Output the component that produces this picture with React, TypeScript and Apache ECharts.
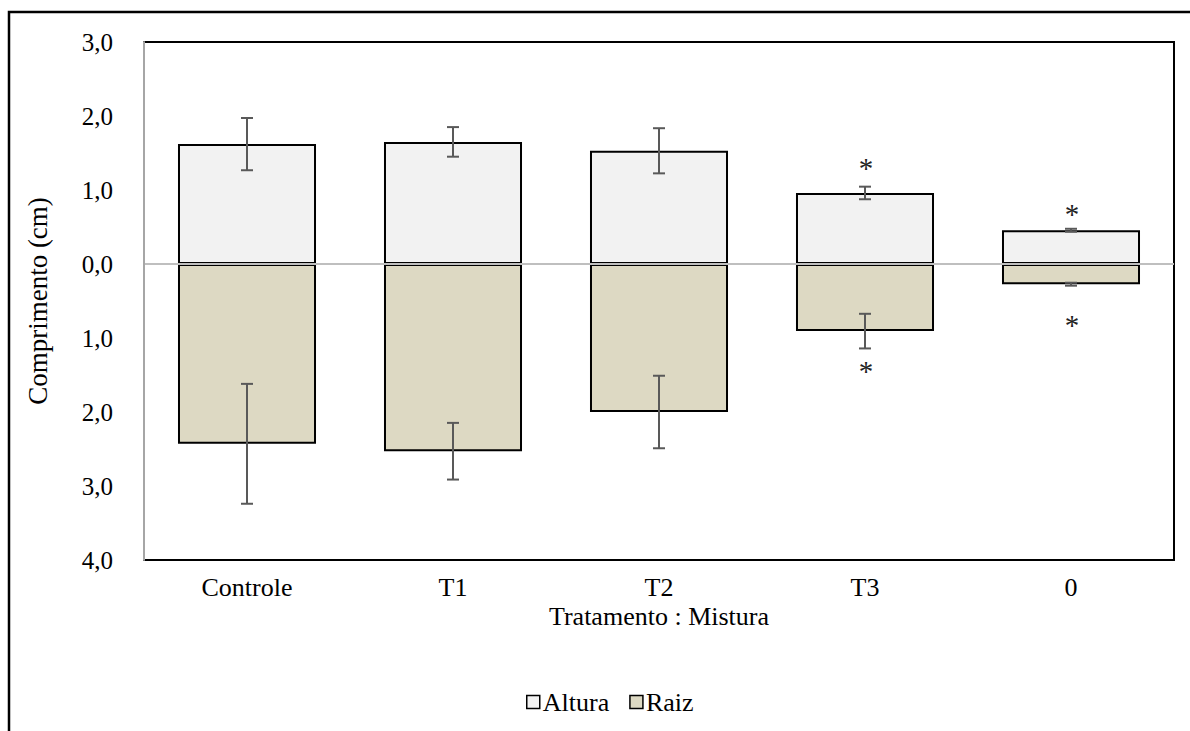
import React, { useEffect, useRef } from 'react';
import * as echarts from 'echarts';

const categories = ['Controle', 'T1', 'T2', 'T3', '0'];
const altura = [1.62, 1.65, 1.53, 0.96, 0.456];
const alturaErr = [0.353, 0.2, 0.305, 0.085, 0.02];
const raiz = [-2.43, -2.53, -2.0, -0.907, -0.273];
const raizErr = [0.81, 0.383, 0.49, 0.234, 0.02];
// significance markers: [category index, value]
const asterisks = [
  [3, 1.36],
  [3, -1.38],
  [4, 0.75],
  [4, -0.76],
];
const yTicks = { min: -4, max: 3, interval: 1 };

const FONT = 'Liberation Serif';
const FS = 25;
const FS_X = 26;
const FS_BIG = 27;

export default function App() {
  const ref = useRef<HTMLDivElement>(null);
  useEffect(() => {
    const chart = echarts.init(ref.current!, null, { renderer: 'svg' });
    const errData: number[][] = [];
    categories.forEach((_, i) => {
      errData.push([i, altura[i] - alturaErr[i], altura[i] + alturaErr[i]]);
      errData.push([i, raiz[i] - raizErr[i], raiz[i] + raizErr[i]]);
    });
    const option: any = {
      animation: false,
      textStyle: { fontFamily: FONT },
      graphic: [
        {
          type: 'rect',
          z: -10,
          silent: true,
          shape: { x: 9, y: 12, width: 1400, height: 1000 },
          style: { fill: 'none', stroke: '#000', lineWidth: 2.5 },
        },
      ],
      grid: {
        left: 144,
        right: 16,
        top: 42,
        bottom: 171,
        show: true,
        borderColor: '#000',
        borderWidth: 2,
        backgroundColor: 'transparent',
      },
      legend: {
        data: ['Altura', 'Raiz'],
        left: 521,
        top: 684,
        itemWidth: 13,
        itemHeight: 13,
        itemGap: 20,
        icon: 'rect',
        itemStyle: { borderColor: '#000', borderWidth: 1.5 },
        textStyle: { fontFamily: FONT, fontSize: 26, color: '#000', padding: [0, 0, 0, -2] },
      },
      xAxis: {
        type: 'category',
        data: categories,
        axisLine: { show: false, onZero: false },
        axisTick: { show: false },
        axisLabel: { fontFamily: FONT, fontSize: FS_X, color: '#000', margin: 14 },
        name: 'Tratamento : Mistura',
        nameLocation: 'middle',
        nameGap: 43,
        nameMoveOverlap: false,
        nameTextStyle: { fontFamily: FONT, fontSize: FS_X, color: '#000' },
      },
      yAxis: {
        type: 'value',
        min: yTicks.min,
        max: yTicks.max,
        interval: yTicks.interval,
        z: 5,
        axisLine: { show: true, lineStyle: { color: '#A6A6A6', width: 2 } },
        axisTick: { show: false },
        splitLine: { show: false },
        axisLabel: {
          fontFamily: FONT,
          fontSize: FS,
          color: '#000',
          margin: 31,
          formatter: (v: number) => Math.abs(v).toFixed(1).replace('.', ','),
        },
        name: 'Comprimento (cm)',
        nameLocation: 'middle',
        nameGap: 93,
        nameMoveOverlap: false,
        nameTextStyle: { fontFamily: FONT, fontSize: FS_BIG, color: '#000' },
      },
      series: [
        {
          name: 'Altura',
          type: 'bar',
          stack: 'total',
          data: altura,
          barWidth: '67%',
          itemStyle: { color: '#F2F2F2', borderColor: '#000', borderWidth: 2 },
        },
        {
          name: 'Raiz',
          type: 'bar',
          stack: 'total',
          data: raiz,
          barWidth: '67%',
          itemStyle: { color: '#DDD9C3', borderColor: '#000', borderWidth: 2 },
        },
        {
          name: 'err',
          type: 'custom',
          z: 5,
          data: errData,
          encode: { x: 0, y: [1, 2] },
          renderItem: (params: any, api: any) => {
            const x = api.value(0);
            const lo = api.coord([x, api.value(1)]);
            const hi = api.coord([x, api.value(2)]);
            const h = 6;
            const style = { stroke: '#595959', lineWidth: 2 };
            return {
              type: 'group',
              children: [
                { type: 'line', shape: { x1: hi[0], y1: hi[1], x2: lo[0], y2: lo[1] }, style },
                { type: 'line', shape: { x1: hi[0] - h, y1: hi[1], x2: hi[0] + h, y2: hi[1] }, style },
                { type: 'line', shape: { x1: lo[0] - h, y1: lo[1], x2: lo[0] + h, y2: lo[1] }, style },
              ],
            };
          },
          markLine: {
            silent: true,
            symbol: 'none',
            label: { show: false },
            lineStyle: { color: '#BFBFBF', width: 2, type: 'solid' },
            data: [{ yAxis: 0 }],
          },
        },
        {
          name: 'sig',
          type: 'custom',
          z: 6,
          data: asterisks,
          encode: { x: 0, y: 1 },
          renderItem: (params: any, api: any) => {
            const p = api.coord([api.value(0), api.value(1)]);
            return {
              type: 'text',
              x: p[0] + 1,
              y: p[1] + 5,
              style: {
                text: '*',
                fontFamily: FONT,
                fontSize: 29,
                fill: '#222',
                align: 'center',
                verticalAlign: 'middle',
              },
            };
          },
        },
      ],
    };
    chart.setOption(option);
    return () => chart.dispose();
  }, []);
  return (
    <div
      ref={ref}
      style={{ position: 'absolute', left: 0, top: 0, width: 1190, height: 731, background: '#fff' }}
    />
  );
}
